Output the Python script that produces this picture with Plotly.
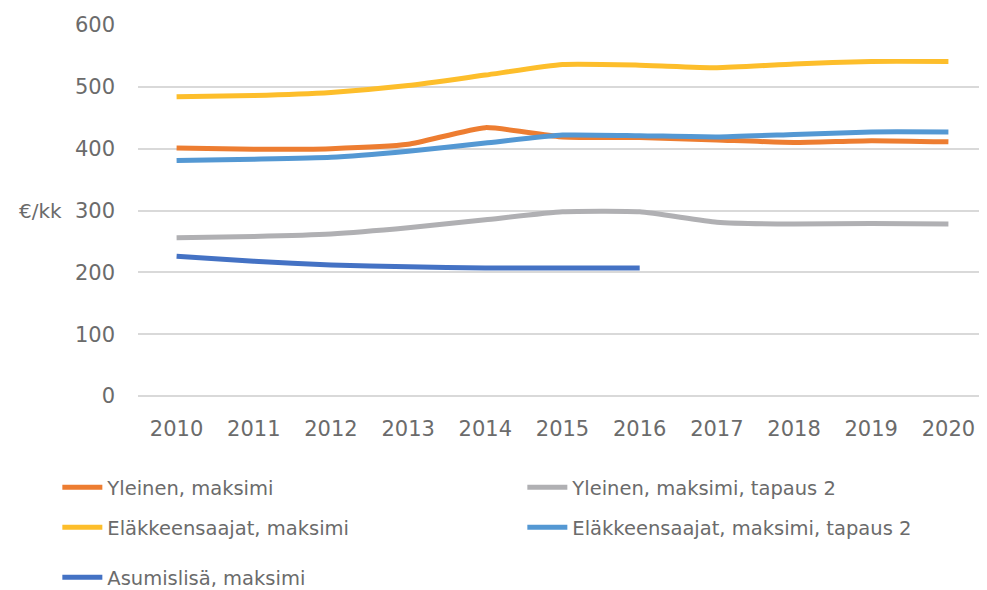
import plotly.graph_objects as go

years = [2010, 2011, 2012, 2013, 2014, 2015, 2016, 2017, 2018, 2019, 2020]
yleinen = [401, 399, 400, 407, 434, 419, 418, 414, 410, 413, 411]
yleinen_t2 = [256, 258, 262, 272, 285, 298, 298, 281, 278, 279, 278]
elake = [484, 486, 491, 502, 519, 536, 535, 531, 537, 541, 541]
elake_t2 = [381, 383, 386, 396, 409, 422, 421, 419, 423, 427, 427]
asumis_years = [2010, 2011, 2012, 2013, 2014, 2015, 2016]
asumis = [226, 218, 212, 209, 207, 207, 207]

names = ["Yleinen, maksimi", "Yleinen, maksimi, tapaus 2",
         "Eläkkeensaajat, maksimi", "Eläkkeensaajat, maksimi, tapaus 2",
         "Asumislisä, maksimi"]
colors = ["#ED7D31", "#B0B0B3", "#FDBE2B", "#5498D3", "#4472C4"]

FONT = "DejaVu Sans"
TXT = "#6b6b6b"

fig = go.Figure()
series = [(years, yleinen, "legend"), (years, yleinen_t2, "legend"),
          (years, elake, "legend2"), (years, elake_t2, "legend2"),
          (asumis_years, asumis, "legend3")]
for (xs, ys, lg), name, col in zip(series, names, colors):
    fig.add_trace(go.Scatter(x=xs, y=ys, name=name, mode="lines",
                             line=dict(color=col, width=5, shape="spline", smoothing=0.5),
                             legend=lg))

# page body has an 8px margin, so the figure is sized to fit 987x590
PW, PH = 979, 582
plot_h = PH - 17 - 194.4

def py(pix):  # reference pixel y -> paper y
    return ((395.6 - 8) - (pix - 8)) / plot_h

leg_common = dict(orientation="h", xanchor="left", yanchor="middle",
                  font=dict(family=FONT, size=19.5, color=TXT),
                  bgcolor="rgba(0,0,0,0)", entrywidth=410, entrywidthmode="pixels",
                  itemwidth=40)
fig.update_layout(
    width=PW, height=PH,
    margin=dict(l=130, r=0, t=17, b=194.4, autoexpand=False),
    paper_bgcolor="white", plot_bgcolor="white",
    font=dict(family=FONT, size=20, color=TXT),
    xaxis=dict(range=[2009.5, 2020.5], tickvals=years, ticktext=[str(y) for y in years],
               showgrid=False, zeroline=False, showline=False, ticks="",
               ticklabelstandoff=18,
               tickfont=dict(family=FONT, size=21, color=TXT)),
    yaxis=dict(range=[0, 600], dtick=100, showgrid=True, gridcolor="#d9d9d9", gridwidth=1.5,
               zeroline=True, zerolinecolor="#d9d9d9", zerolinewidth=1.5,
               ticks="", ticklabelstandoff=22,
               tickfont=dict(family=FONT, size=21, color=TXT)),
    legend=dict(x=-0.095, y=py(487), **leg_common),
    legend2=dict(x=-0.095, y=py(527), **leg_common),
    legend3=dict(x=-0.095, y=py(577), **leg_common),
    showlegend=True,
)
fig.add_annotation(text="€/kk", xref="paper", yref="y", x=-0.142, y=300,
                   xanchor="left", yanchor="middle", showarrow=False,
                   font=dict(family=FONT, size=20, color=TXT))
fig.write_html("out.html")
